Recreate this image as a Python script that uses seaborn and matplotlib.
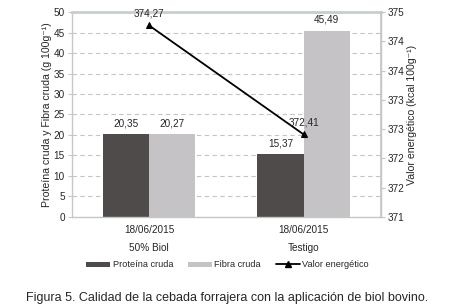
import matplotlib
matplotlib.use("Agg")
import matplotlib.pyplot as plt
import seaborn as sns
import numpy as np
import pandas as pd
from matplotlib.patches import Patch
from matplotlib.lines import Line2D
from matplotlib.ticker import FixedLocator, FuncFormatter

# ---- data ----
dates = ["18/06/2015", "18/06/2015"]
treatments = ["50% Biol", "Testigo"]
proteina = [20.35, 15.37]
fibra = [20.27, 45.49]
energia = [374.27, 372.41]
series_names = ["Proteína cruda", "Fibra cruda", "Valor energético"]

sns.set_theme(style="white")
plt.rcParams["font.family"] = ["Liberation Sans", "DejaVu Sans"]

cats = [f"{d}\n{t}" for d, t in zip(dates, treatments)]
df = pd.DataFrame({
    "cat": cats * 2,
    "serie": [series_names[0]] * 2 + [series_names[1]] * 2,
    "valor": proteina + fibra,
})

dark = "#4f4b4b"
light = "#c6c3c6"
grid_c = "#c4c4c4"
axis_c = "#c4c8c4"

fig = plt.figure(figsize=(4.55, 3.08), dpi=100)
ax = fig.add_axes([0.158, 0.2955, 0.679, 0.6655])

sns.barplot(data=df, x="cat", y="valor", hue="serie",
            palette=[dark, light], width=0.6, gap=0, ax=ax,
            legend=False, saturation=1, linewidth=0)

ax.set_ylim(0, 50)
ax.set_yticks(np.arange(0, 51, 5))
ax.set_xlim(-0.5, 1.5)
ax.yaxis.grid(True, linestyle=(0, (4, 3)), color=grid_c, linewidth=0.8)
ax.set_axisbelow(True)
for s in ["left", "right", "bottom"]:
    ax.spines[s].set_color(axis_c)
    ax.spines[s].set_linewidth(1)
ax.spines["top"].set_color("#c8cec8")
ax.spines["top"].set_linewidth(2)
ax.tick_params(axis="y", which="both", left=True, length=3, width=0.8,
               color=axis_c, labelsize=7.2, pad=2)
ax.tick_params(axis="x", length=0, labelsize=7.2, pad=6)
ax.set_xlabel("")
ax.set_ylabel("Proteína cruda y Fibra cruda (g 100g\u207b\u00b9)", fontsize=7.6,
              labelpad=1)
for lab in ax.get_xticklabels():
    lab.set_linespacing(2.0)
    lab.set_verticalalignment("top")

for cont in ax.containers:
    ax.bar_label(cont, labels=[f"{v:.2f}".replace(".", ",") for v in cont.datavalues],
                 padding=4, fontsize=7.2)

# ---- secondary axis ----
ax2 = ax.twinx()
pos = np.arange(len(energia))
sns.lineplot(x=pos, y=energia, ax=ax2, color="black", linewidth=1.3,
             marker="^", markersize=5, markeredgecolor="black")
ax2.set_ylim(371, 374.5)
ax2.yaxis.set_major_locator(FixedLocator(np.arange(371, 374.51, 0.5)))
ax2.yaxis.set_major_formatter(FuncFormatter(lambda v, p: f"{int(np.floor(v + 0.5))}"))
ax2.tick_params(axis="y", right=True, length=3, width=0.8, color=axis_c,
                labelsize=7.2, pad=2)
ax2.set_ylabel("Valor energético (kcal 100g\u207b\u00b9)", fontsize=7.6, labelpad=2)
for s in ax2.spines.values():
    s.set_visible(False)
ax2.spines["right"].set_visible(True)
ax2.spines["right"].set_color(axis_c)
for x, y in zip(pos, energia):
    ax2.annotate(f"{y:.2f}".replace(".", ","), (x, y), textcoords="offset points",
                 xytext=(0, 5), ha="center", va="bottom", fontsize=7.2)

handles = [Patch(facecolor=dark, edgecolor="none"),
           Patch(facecolor=light, edgecolor="none"),
           Line2D([0], [0], color="black", marker="^", markersize=4, linewidth=1.3)]
fig.legend(handles, series_names, loc="center", bbox_to_anchor=(0.5, 0.14),
           ncol=3, frameon=False, fontsize=6.6, handlelength=2.6, handleheight=0.5,
           columnspacing=1.6, handletextpad=0.3)

fig.text(0.5, 0.033, "Figura 5. Calidad de la cebada forrajera con la aplicación de biol bovino.",
         ha="center", va="center", fontsize=9)

fig.savefig("out.png", dpi=100)
